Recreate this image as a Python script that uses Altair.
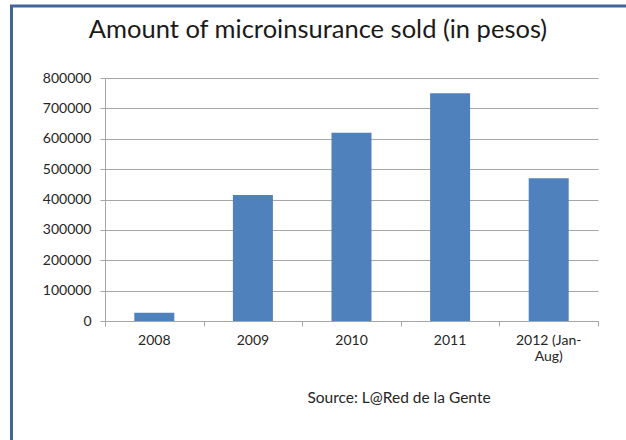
import altair as alt
import pandas as pd

years = ["2008", "2009", "2010", "2011", "2012 (Jan-\nAug)"]
amounts = [27000, 415000, 620000, 750000, 470000]
y_ticks = [0, 100000, 200000, 300000, 400000, 500000, 600000, 700000, 800000]
boundary_ticks = [0, 1, 2, 3, 4, 5]
title_text = ["Amount of microinsurance sold (in pesos)"]
source_note = ["Source: L@Red de la Gente"]

df = pd.DataFrame({"year": years, "amount": amounts})
ticks_df = pd.DataFrame({"pos": boundary_ticks})
note_df = pd.DataFrame({"note": source_note, "title": title_text})

FONT = "Lato"
GRID = "#a6a6a6"
TEXT = "#262626"
BAR = "#4F81BD"
FRAME = "#44659a"

bars = alt.Chart(df).mark_bar(size=40, color=BAR).encode(
    x=alt.X("year:N", sort=years, title=None,
            scale=alt.Scale(paddingInner=0, paddingOuter=0),
            axis=alt.Axis(orient="bottom", labelAngle=0, ticks=False, domain=False, grid=False,
                          labelExpr="split(datum.label, '\\n')", labelFontSize=14,
                          labelColor=TEXT, labelFont=FONT, labelPadding=12,
                          labelLineHeight=16)),
    y=alt.Y("amount:Q", title=None,
            scale=alt.Scale(domain=[0, 800000], nice=False),
            axis=alt.Axis(values=y_ticks, format="d", grid=True, gridColor=GRID,
                          domainColor=GRID, tickColor=GRID, tickSize=5,
                          labelPadding=9, labelFontSize=14, labelColor=TEXT,
                          labelFont=FONT)),
)

tick_layer = alt.Chart(ticks_df).mark_tick(opacity=0).encode(
    x=alt.X("pos:Q", title=None, scale=alt.Scale(domain=[0, 5], nice=False),
            axis=alt.Axis(orient="bottom", values=boundary_ticks, labels=False, grid=False,
                          domainColor=GRID, tickColor=GRID, tickSize=5)),
)

title = alt.Chart(note_df).mark_text(font=FONT, fontSize=25.5, fontWeight="normal",
                                      color="#1a1a1a", align="center",
                                      baseline="alphabetic").encode(
    x=alt.value(213), y=alt.value(-40), text="title:N")

source = alt.Chart(note_df).mark_text(font=FONT, fontSize=15.5, fontWeight="normal",
                                       color=TEXT, align="center",
                                       baseline="middle").encode(
    x=alt.value(294), y=alt.value(320), text="note:N")

frame_left = alt.Chart(note_df).mark_rule(color=FRAME, strokeWidth=3).encode(
    x=alt.value(-93.5), y=alt.value(-73), y2=alt.value(362))
frame_top = alt.Chart(note_df).mark_rule(color=FRAME, strokeWidth=3).encode(
    x=alt.value(-95), x2=alt.value(521), y=alt.value(-72))

chart = alt.layer(bars, tick_layer, title, source, frame_left, frame_top).resolve_scale(
    x="independent"
).properties(
    width=493, height=243,
    autosize=alt.AutoSizeParams(type="none"),
    padding={"left": 105, "top": 78, "right": 28, "bottom": 119},
    background="white",
).configure_view(stroke=None)

chart.save("out.html", embed_options={"renderer": "svg", "actions": False})
